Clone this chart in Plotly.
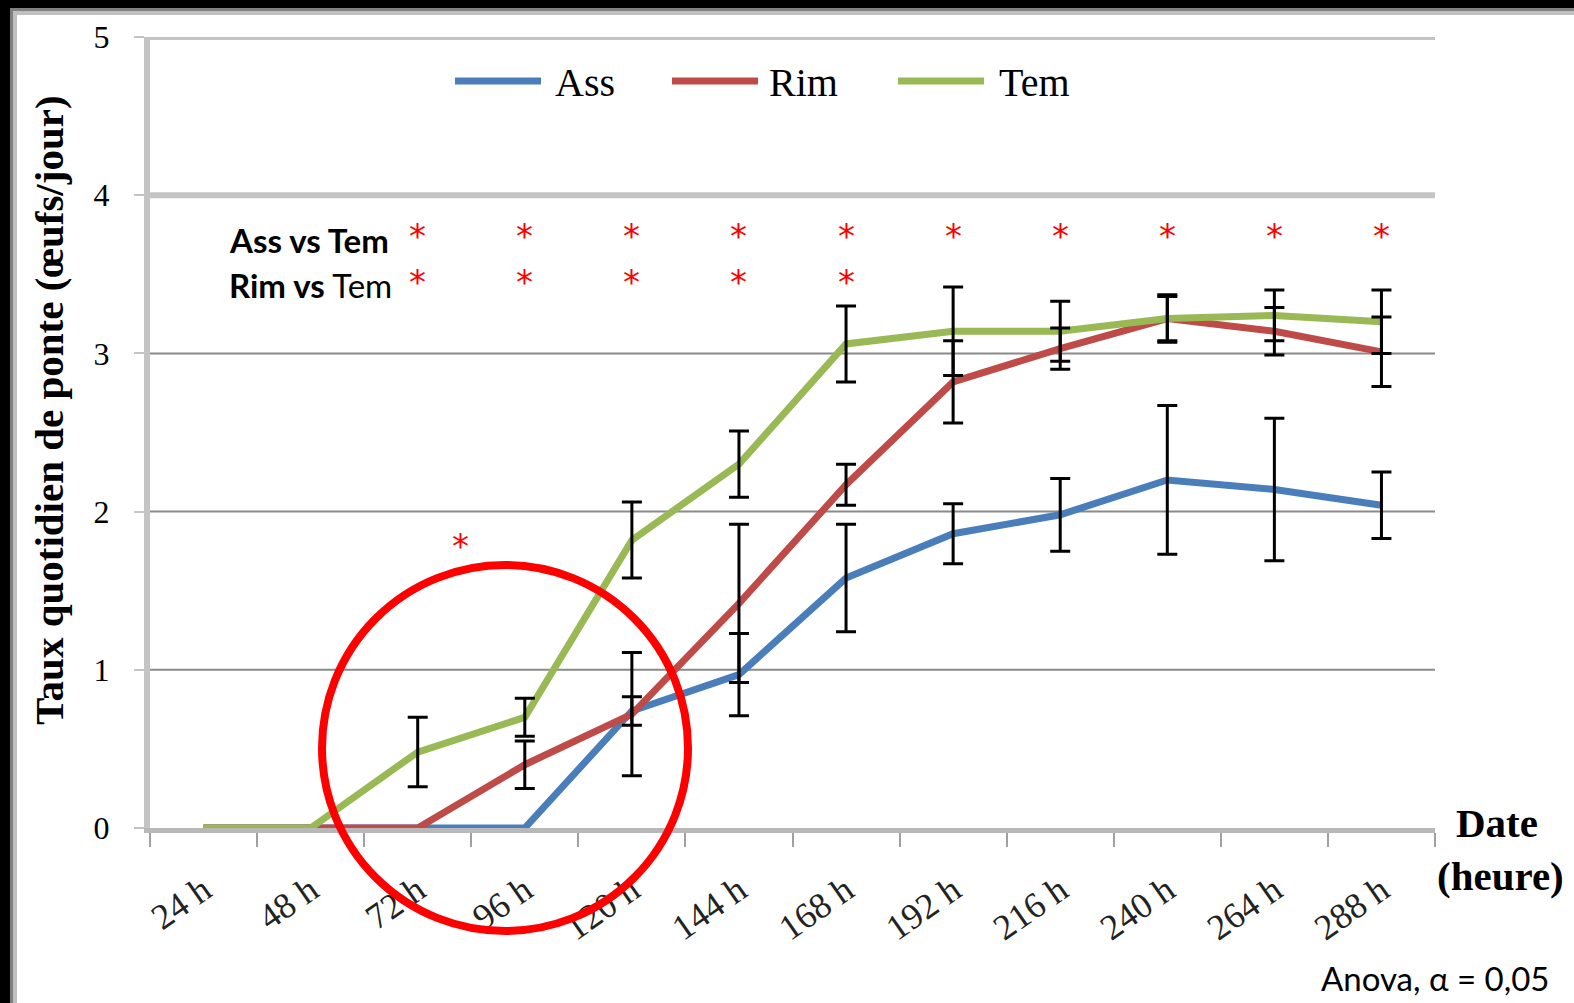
import plotly.graph_objects as go

# --- data -------------------------------------------------------------
categories = ["24 h", "48 h", "72 h", "96 h", "120 h", "144 h",
              "168 h", "192 h", "216 h", "240 h", "264 h", "288 h"]

ass = [0, 0, 0, 0, 0.74, 0.97, 1.58, 1.86, 1.98, 2.20, 2.14, 2.04]
rim = [0, 0, 0, 0.40, 0.72, 1.42, 2.17, 2.82, 3.03, 3.22, 3.14, 3.01]
tem = [0, 0, 0.48, 0.70, 1.82, 2.30, 3.06, 3.14, 3.14, 3.22, 3.24, 3.20]

ass_err = [0, 0, 0, 0, 0.09, 0.26, 0.34, 0.19, 0.23, 0.47, 0.45, 0.21]
rim_err = [0, 0, 0, 0.15, 0.39, 0.50, 0.13, 0.26, 0.13, 0.14, 0.15, 0.22]
tem_err = [0, 0, 0.22, 0.12, 0.24, 0.21, 0.24, 0.28, 0.19, 0.15, 0.16, 0.20]

y_ticks = [0, 1, 2, 3, 4, 5]

# significance marks (category labels where p < 0.05)
ass_vs_tem_sig = ["72 h", "96 h", "120 h", "144 h", "168 h",
                  "192 h", "216 h", "240 h", "264 h", "288 h"]
rim_vs_tem_sig = ["72 h", "96 h", "120 h", "144 h", "168 h"]

series = [
    ("Ass", ass, ass_err, "#4a7ebb"),
    ("Rim", rim, rim_err, "#be4b48"),
    ("Tem", tem, tem_err, "#98b954"),
]

# --- geometry ---------------------------------------------------------
W, H = 1574, 1003
ML, MR, MT, MB = 150, 139, 37, 175
PW, PH = W - ML - MR, H - MT - MB


def px_x(px):
    return (px - ML) / PW


def px_y(py):
    return (H - MB - py) / PH


SERIF = "Liberation Serif"
SANS = "Lato"
STAR = "DejaVu Sans"

fig = go.Figure()

# lines
for name, vals, _, col in series:
    fig.add_trace(go.Scatter(
        x=categories, y=vals, mode="lines", name=name,
        line=dict(color=col, width=7), showlegend=False,
        hoverinfo="skip",
    ))

# error bars drawn above all lines
for name, vals, errs, _ in series:
    xs = [c for c, e in zip(categories, errs) if e > 0]
    ys = [v for v, e in zip(vals, errs) if e > 0]
    es = [e for e in errs if e > 0]
    fig.add_trace(go.Scatter(
        x=xs, y=ys, mode="markers", marker=dict(size=1, opacity=0),
        error_y=dict(type="data", array=es, visible=True,
                     color="black", thickness=3, width=10),
        showlegend=False, hoverinfo="skip",
    ))

shapes = []
annotations = []

# horizontal gridlines
for v in y_ticks[1:]:
    heavy = v >= 4
    shapes.append(dict(
        type="line", xref="paper", yref="y", x0=0, x1=1, y0=v, y1=v,
        line=dict(color="#c4c4c4" if heavy else "#8a8a8a",
                  width=6 if heavy else 2),
        layer="below",
    ))

# custom legend
legend_items = [("Ass", 455, 553), ("Rim", 672, 767), ("Tem", 898, 997)]
for (name, lx, tx), (_, _, _, col) in zip(legend_items, series):
    shapes.append(dict(
        type="line", xref="paper", yref="paper",
        x0=px_x(lx), x1=px_x(lx + 86), y0=px_y(81), y1=px_y(81),
        line=dict(color=col, width=7),
    ))
    annotations.append(dict(
        x=px_x(tx), y=px_y(82), xref="paper", yref="paper",
        text=name, showarrow=False, xanchor="left", yanchor="middle",
        font=dict(family=SERIF, size=40, color="black"),
    ))

# significance rows
row_y = {"ass": 3.72, "rim": 3.43}
annotations.append(dict(
    x=px_x(227), y=row_y["ass"], xref="paper", yref="y",
    text="<b>Ass vs Tem</b>", showarrow=False, xanchor="left",
    yanchor="middle", font=dict(family=SANS, size=33, color="black"),
))
annotations.append(dict(
    x=px_x(227), y=row_y["rim"], xref="paper", yref="y",
    text="<b>Rim vs</b> Tem", showarrow=False, xanchor="left",
    yanchor="middle", font=dict(family=SANS, size=33, color="black"),
))
for key, cats in (("ass", ass_vs_tem_sig), ("rim", rim_vs_tem_sig)):
    for c in cats:
        annotations.append(dict(
            x=c, y=row_y[key] + 0.02, xref="x", yref="y", text="*",
            showarrow=False, xanchor="center", yanchor="middle",
            font=dict(family=STAR, size=34, color="#ff0000"),
        ))
# extra star above the highlighted early window
annotations.append(dict(
    x=2.4, y=1.78, xref="x", yref="y", text="*", showarrow=False,
    xanchor="center", yanchor="middle",
    font=dict(family=STAR, size=34, color="#ff0000"),
))

# highlight circle around the early laying window
cx, cy, r = 505, 748, 183
shapes.append(dict(
    type="circle", xref="paper", yref="paper",
    x0=px_x(cx - r), x1=px_x(cx + r), y0=px_y(cy + r), y1=px_y(cy - r),
    line=dict(color="#ff0000", width=8), layer="above",
))

# axis titles
annotations.append(dict(
    x=px_x(49), y=px_y(410), xref="paper", yref="paper",
    text="<b>Taux quotidien de ponte (œufs/jour)</b>", textangle=-90,
    showarrow=False, xanchor="center", yanchor="middle",
    font=dict(family=SERIF, size=41, color="black"),
))
annotations.append(dict(
    x=px_x(1497), y=px_y(823), xref="paper", yref="paper",
    text="<b>Date</b>", showarrow=False, xanchor="center", yanchor="middle",
    font=dict(family=SERIF, size=41, color="black"),
))
annotations.append(dict(
    x=px_x(1500), y=px_y(876), xref="paper", yref="paper",
    text="<b>(heure)</b>", showarrow=False, xanchor="center",
    yanchor="middle", font=dict(family=SERIF, size=41, color="black"),
))
annotations.append(dict(
    x=px_x(1551), y=px_y(978), xref="paper", yref="paper",
    text="Anova, α = 0,05", showarrow=False, xanchor="right",
    yanchor="middle", font=dict(family=SANS, size=33, color="black"),
))

# dark frame along the top and left edges
frame = [
    (0, 0, 10, H, "#000000"), (10, 0, 13, H, "#808080"),
    (13, 0, 17, H, "#c0c0c0"),
    (0, 0, W, 8, "#000000"), (10, 8, W, 11, "#808080"),
    (13, 11, W, 15, "#c0c0c0"),
]
for x0, y0, x1, y1, col in frame:
    shapes.append(dict(
        type="rect", xref="paper", yref="paper",
        x0=px_x(x0), x1=px_x(x1), y0=px_y(y1), y1=px_y(y0),
        fillcolor=col, line=dict(width=0), layer="above",
    ))

fig.update_layout(
    width=W, height=H,
    margin=dict(l=ML, r=MR, t=MT, b=MB),
    paper_bgcolor="white", plot_bgcolor="white",
    shapes=shapes, annotations=annotations,
    showlegend=False,
    xaxis=dict(
        type="category", categoryorder="array", categoryarray=categories,
        range=[-0.5, len(categories) - 0.5],
        tickson="boundaries", ticks="outside", ticklen=14,
        tickcolor="#a0a0a0", tickwidth=2,
        showline=True, linecolor="#b8b8b8", linewidth=5,
        showgrid=False, zeroline=False, tickangle=-35,
        tickfont=dict(family=SERIF, size=36, color="#222222"),
        ticklabelstandoff=22,
    ),
    yaxis=dict(
        range=[0, 5], tickvals=y_ticks, ticks="outside", ticklen=10,
        tickcolor="#c4c4c4", tickwidth=2,
        showline=True, linecolor="#c4c4c4", linewidth=6,
        showgrid=False, zeroline=False,
        tickfont=dict(family=SERIF, size=32, color="black"),
        ticklabelstandoff=18,
    ),
)

fig.write_html("out.html")
